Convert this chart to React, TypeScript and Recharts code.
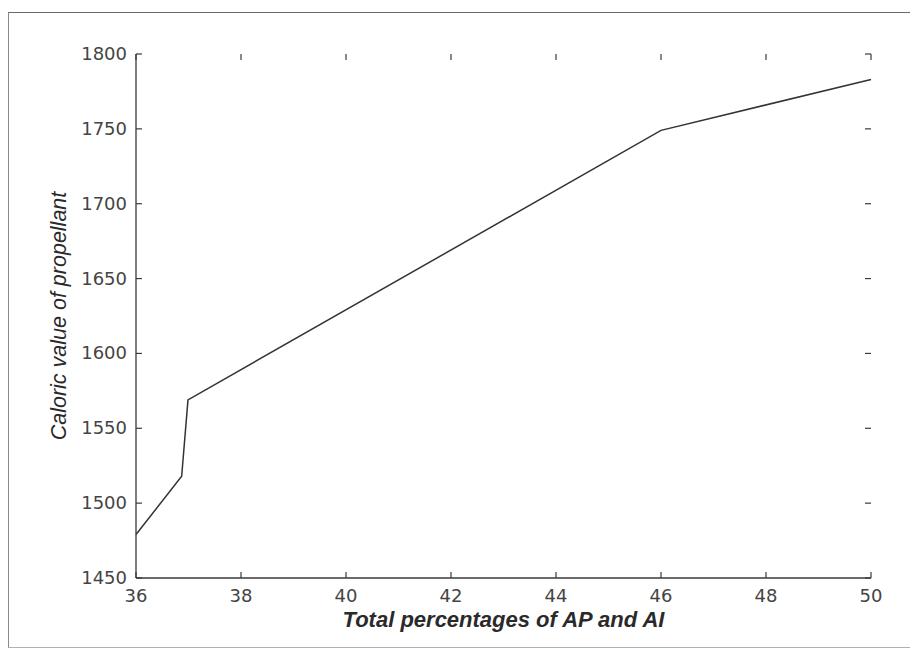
import { LineChart, Line, XAxis, YAxis, ReferenceLine } from 'recharts';

/* -------------------------------------------------------------------------- */
/*  Data                                                                      */
/* -------------------------------------------------------------------------- */

const totalPercent = [36, 36.87, 36.99, 46, 50];
const caloricValue = [1479, 1518, 1569, 1749, 1783];

const xTicks = [36, 38, 40, 42, 44, 46, 48, 50];
const yTicks = [1450, 1500, 1550, 1600, 1650, 1700, 1750, 1800];

const data = totalPercent.map((x, i) => ({ x, y: caloricValue[i] }));

const AXIS = '#3a3a3a';
const TEXT = '#444';
const TICK_FONT = { fontFamily: 'DejaVu Sans', fontSize: 18, fill: TEXT };
const LABEL_FONT = { fontFamily: 'Liberation Sans', fontStyle: 'italic', fill: '#2a2a2a' };
const TICK_LEN = 6;

/* -------------------------------------------------------------------------- */
/*  Tick labels (text only) and inward tick marks, MATLAB style               */
/* -------------------------------------------------------------------------- */

function BottomTick({ x, y, payload }: any) {
  return (
    <text x={x} y={y + 24} textAnchor="middle" {...TICK_FONT}>
      {payload.value}
    </text>
  );
}

function LeftTick({ x, y, payload }: any) {
  return (
    <text x={x - 9} y={y + 6} textAnchor="end" {...TICK_FONT}>
      {payload.value}
    </text>
  );
}

// a reference line spans the whole plot; keep only a short stub at each end
function VerticalStubs({ x1, y1, x2, y2 }: any) {
  const top = Math.min(y1, y2);
  const bottom = Math.max(y1, y2);
  return (
    <g stroke={AXIS} strokeWidth={1.2}>
      <line x1={x1} x2={x2} y1={top} y2={top + TICK_LEN} />
      <line x1={x1} x2={x2} y1={bottom} y2={bottom - TICK_LEN} />
    </g>
  );
}

function HorizontalStubs({ x1, y1, x2, y2 }: any) {
  const left = Math.min(x1, x2);
  const right = Math.max(x1, x2);
  return (
    <g stroke={AXIS} strokeWidth={1.2}>
      <line x1={left} x2={left + TICK_LEN} y1={y1} y2={y2} />
      <line x1={right} x2={right - TICK_LEN} y1={y1} y2={y2} />
    </g>
  );
}

/* -------------------------------------------------------------------------- */
/*  Component                                                                 */
/* -------------------------------------------------------------------------- */

export default function App() {
  return (
    <div style={{ position: 'relative', width: 910, height: 655, background: '#fff' }}>
      <style>{'body{margin:0}'}</style>
      <div
        style={{
          position: 'absolute',
          left: 8,
          top: 12,
          width: 902,
          height: 636,
          borderLeft: '1px solid #8a8a8a',
          borderTop: '1px solid #6a6a6a',
          borderBottom: '1px solid #b0b0b0',
          boxSizing: 'border-box',
        }}
      />
      <LineChart
        width={910}
        height={655}
        data={data}
        margin={{ top: 54, right: 39, left: 0, bottom: 0 }}
        style={{ position: 'absolute', left: 0, top: 0 }}
      >
        <XAxis
          dataKey="x"
          type="number"
          domain={[36, 50]}
          ticks={xTicks}
          height={77}
          tickSize={0}
          tickMargin={0}
          tickLine={false}
          axisLine={{ stroke: AXIS, strokeWidth: 1.3 }}
          tick={<BottomTick />}
          interval={0}
          label={{
            value: 'Total percentages of AP and AI',
            position: 'insideTop',
            offset: 33,
            style: { ...LABEL_FONT, fontSize: 22, fontWeight: 'bold' },
          }}
        />
        <XAxis
          xAxisId="top"
          type="number"
          orientation="top"
          domain={[36, 50]}
          height={0}
          tick={false}
          tickLine={false}
          axisLine={{ stroke: AXIS, strokeWidth: 1.3 }}
        />
        <YAxis
          type="number"
          domain={[1450, 1800]}
          ticks={yTicks}
          width={136}
          tickSize={0}
          tickMargin={0}
          tickLine={false}
          axisLine={{ stroke: AXIS, strokeWidth: 1.3 }}
          tick={<LeftTick />}
          interval={0}
          label={{
            value: 'Caloric value of propellant',
            angle: -90,
            position: 'insideLeft',
            offset: 58,
            style: { ...LABEL_FONT, fontSize: 21.5, textAnchor: 'middle' },
          }}
        />
        <YAxis
          yAxisId="right"
          type="number"
          orientation="right"
          domain={[1450, 1800]}
          width={0}
          tick={false}
          tickLine={false}
          axisLine={{ stroke: AXIS, strokeWidth: 1.3 }}
        />
        {xTicks.map((t) => (
          <ReferenceLine key={`x${t}`} x={t} shape={<VerticalStubs />} />
        ))}
        {yTicks.map((t) => (
          <ReferenceLine key={`y${t}`} y={t} shape={<HorizontalStubs />} />
        ))}
        <Line
          dataKey="y"
          type="linear"
          stroke="#333"
          strokeWidth={1.5}
          dot={false}
          isAnimationActive={false}
        />
      </LineChart>
    </div>
  );
}
